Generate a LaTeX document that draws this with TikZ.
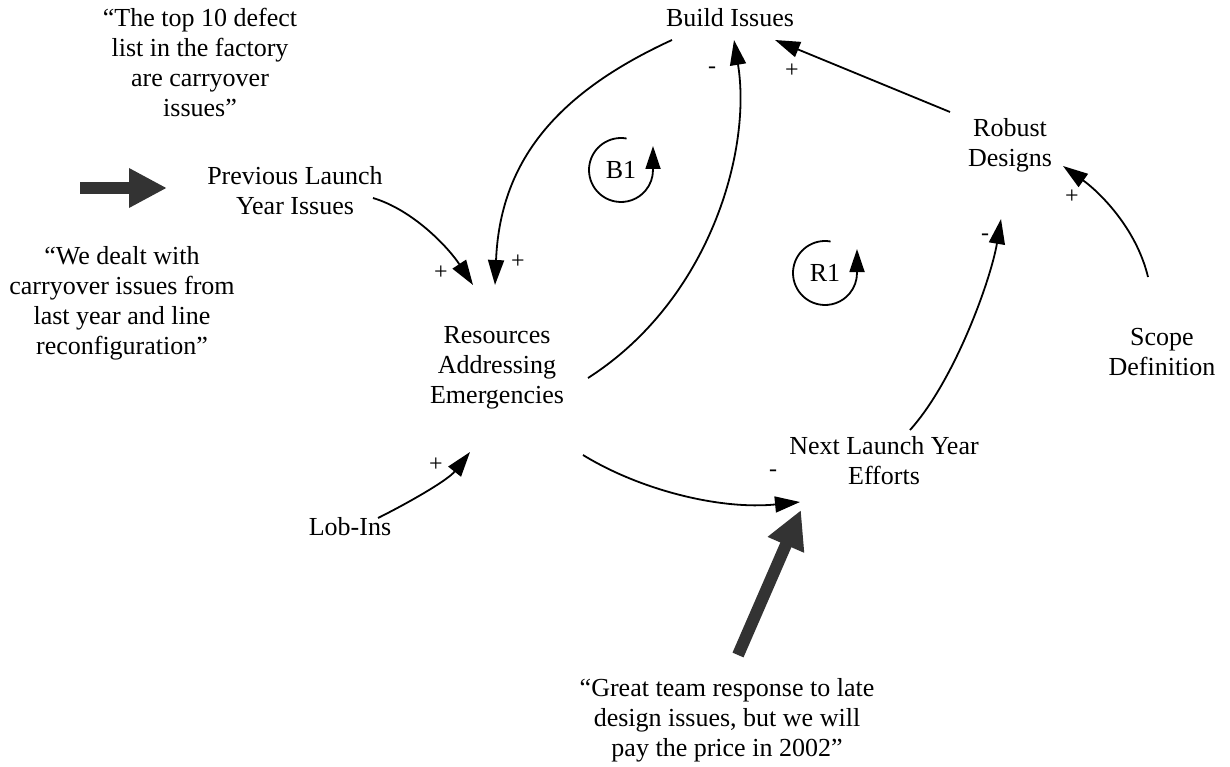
\documentclass[tikz,border=0pt]{standalone}
\usepackage{fontspec}
\setmainfont{Liberation Serif}
\usetikzlibrary{arrows.meta,calc}
\begin{document}
\begin{tikzpicture}[x=1pt,y=-1pt,
  lbl/.style={align=center,inner sep=0pt,font=\fontsize{26}{30}\selectfont},
  sgn/.style={inner sep=0pt,font=\fontsize{24}{24}\selectfont},
  link/.style={line width=1.8pt,-{Triangle[length=25pt,width=16pt]}},
  loopline/.style={line width=1.8pt,-{Triangle[length=23pt,width=15pt]}},
  fat/.style={line width=12pt,draw=black!80,-{Triangle[length=38pt,width=37pt]}}]
\useasboundingbox (0,0) rectangle (1230,767);

% variables and quotes
\node[lbl] (topq) at (200,62) {“The top 10 defect\\list in the factory\\are carryover\\issues”};
\node[lbl] (leftq) at (122,303) {“We dealt with\\carryover issues from\\last year and line\\reconfiguration”};
\node[lbl] (prev) at (295,191) {Previous Launch\\Year Issues};
\node[lbl] (build) at (730,18) {Build Issues};
\node[lbl] (robust) at (1010,145) {Robust\\Designs};
\node[lbl] (scope) at (1162,352) {Scope\\Definition};
\node[lbl] (res) at (497,368) {Resources\\Addressing\\Emergencies};
\node[lbl] (next) at (884,461) {Next Launch Year\\Efforts};
\node[lbl] (lob) at (350,527) {Lob-Ins};
\node[lbl] (botq) at (727,720) {“Great team response to late\\design issues, but we will\\pay the price in 2002”};
\node[lbl] (b1) at (621,170) {B1};
\node[lbl] (r1) at (825,273) {R1};

% fat arrows
\coordinate (fatA) at ($(leftq)+(-42,-115)$);
\coordinate (fatB) at ($(botq)+(11,-65)$);
\draw[fat] (fatA) -- ($(prev)+(-128,-3)$);
\draw[fat] (fatB) -- ($(next)+(-83,49)$);

% causal links
\draw[link] ($(prev)+(78,7)$) .. controls +(40,12) and +(-25,-38) .. ($(res)+(-24,-83)$);
\draw[link] ($(build)+(-58,22)$) .. controls +(-120,55) and +(5,-120) .. ($(res)+(-2,-83)$);
\draw[link] ($(res)+(91,10)$) .. controls +(122,-78) and +(18,110) .. ($(build)+(4,22)$);
\draw[link] ($(robust)+(-60,-33)$) -- ($(build)+(45,22)$);
\draw[link] ($(scope)+(-14,-75)$) .. controls +(-12,-50) and +(35,25) .. ($(robust)+(53,21)$);
\draw[link] ($(next)+(26,-31)$) .. controls +(45,-50) and +(-10,60) .. ($(robust)+(-9,74)$);
\draw[link] ($(res)+(86,87)$) .. controls +(57,35) and +(-80,8) .. ($(next)+(-84,41)$);
\draw[link] ($(lob)+(28,-9)$) .. controls +(32,-16) and +(-22,28) .. ($(res)+(-27,84)$);

% polarity signs
\node[sgn] (s1) at (441,273) {+};
\node[sgn] (s2) at (518,262) {+};
\node[sgn] (s3) at (712,70) {-};
\node[sgn] (s4) at (792,71) {+};
\node[sgn] (s5) at (1072,197) {+};
\node[sgn] (s6) at (985,237) {-};
\node[sgn] (s7) at (773,473) {-};
\node[sgn] (s8) at (436,465) {+};

% loop markers
\draw[loopline] (b1) ++(-80:32) arc[start angle=-80,end angle=-360,radius=32] -- ++(0,-24);
\draw[loopline] (r1) ++(-80:32) arc[start angle=-80,end angle=-360,radius=32] -- ++(0,-24);
\end{tikzpicture}
\end{document}
